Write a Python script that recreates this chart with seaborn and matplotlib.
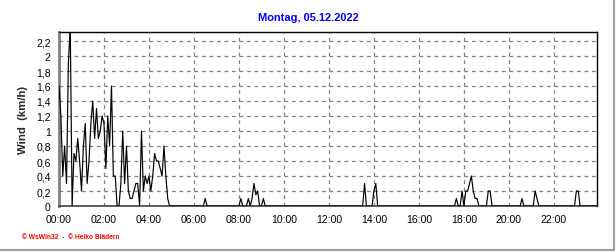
import matplotlib
matplotlib.use("Agg")
import matplotlib.pyplot as plt
from matplotlib.lines import Line2D
from matplotlib.ticker import MultipleLocator, FuncFormatter
import seaborn as sns
import pandas as pd

# ---- data (wind speed, km/h, 05.12.2022) ----
times = [
    "00:00","00:05","00:10","00:15","00:20","00:25","00:30","00:35","00:40","00:45",
    "00:50","00:55","01:00","01:05","01:10","01:15","01:20","01:25","01:30","01:35",
    "01:40","01:45","01:50","01:55","02:00","02:05","02:10","02:15","02:20","02:25",
    "02:30","02:35","02:40","02:45","02:50","02:55","03:00","03:05","03:10","03:15",
    "03:20","03:25","03:30","03:35","03:40","03:45","03:50","03:55","04:00","04:05",
    "04:10","04:15","04:20","04:25","04:30","04:35","04:40","04:45","04:50","04:55",
    "05:00",
    "06:25","06:30","06:35",
    "08:00","08:05","08:10",
    "08:20","08:25","08:30","08:35","08:40","08:45","08:50","08:55","09:00","09:05","09:10",
    "13:30","13:35","13:40",
    "13:55","14:00","14:05","14:10",
    "17:35","17:40","17:45","17:50","17:55","18:00","18:05","18:10","18:15","18:20",
    "18:25","18:30","18:35","18:40",
    "19:00","19:05","19:10","19:15",
    "20:30","20:35","20:40",
    "21:05","21:10","21:15","21:20",
    "22:55","23:00","23:05","23:10",
    "23:55",
]
wind = [
    1.6, 1.2, 0.4, 0.8, 0.3, 1.9, 2.4, 0.0, 0.7, 0.6,
    0.9, 0.6, 0.2, 0.8, 1.1, 0.3, 0.6, 1.1, 1.4, 0.9,
    1.3, 0.9, 1.0, 1.2, 1.1, 0.5, 1.2, 0.8, 1.6, 0.4,
    0.4, 0.0, 0.0, 0.3, 1.0, 0.3, 0.8, 0.2, 0.1, 0.1,
    0.2, 0.3, 0.3, 0.0, 1.0, 0.2, 0.4, 0.3, 0.4, 0.2,
    0.4, 0.7, 0.6, 0.6, 0.5, 0.4, 0.8, 0.4, 0.1, 0.0,
    0.0,
    0.0, 0.1, 0.0,
    0.0, 0.1, 0.0,
    0.0, 0.1, 0.0, 0.1, 0.3, 0.15, 0.2, 0.0, 0.0, 0.1, 0.0,
    0.0, 0.3, 0.0,
    0.0, 0.2, 0.3, 0.0,
    0.0, 0.1, 0.0, 0.0, 0.2, 0.0, 0.2, 0.2, 0.3, 0.4,
    0.2, 0.1, 0.1, 0.0,
    0.0, 0.2, 0.2, 0.0,
    0.0, 0.1, 0.0,
    0.0, 0.2, 0.1, 0.0,
    0.0, 0.2, 0.2, 0.0,
    0.0,
]
x_tick_labels = ["00:00","02:00","04:00","06:00","08:00","10:00","12:00",
                 "14:00","16:00","18:00","20:00","22:00"]
title_text = "Montag, 05.12.2022"
y_label = "Wind  (km/h)"
footer_text = "\u00a9 WsWin32  -  \u00a9 Heiko Blädern"

def to_hours(s):
    h, m = s.split(":")
    return int(h) + int(m) / 60.0

df = pd.DataFrame({"hour": [to_hours(t) for t in times], "wind": wind})

sns.set_style("white")
plt.rcParams["font.family"] = ["Liberation Sans", "DejaVu Sans"]

fig = plt.figure(figsize=(6.16, 2.53), dpi=100)
fig.patch.set_facecolor("white")
ax = fig.add_axes([59/616, 1-207/253, (597-59)/616, (207-33)/253])

sns.lineplot(data=df, x="hour", y="wind", ax=ax, color="black", linewidth=0.85,
             estimator=None, sort=False, zorder=3)

ax.set_xlim(0, 23.917)
ax.set_ylim(0, 2.32)

ax.set_xticks([2*i for i in range(len(x_tick_labels))])
ax.set_xticklabels(x_tick_labels)
ax.xaxis.set_minor_locator(MultipleLocator(0.5))
ax.yaxis.set_major_locator(MultipleLocator(0.2))
ax.yaxis.set_minor_locator(MultipleLocator(0.1))
ax.yaxis.set_major_formatter(FuncFormatter(
    lambda v, p: ("%g" % round(v, 1)).replace(".", ",")))

ax.tick_params(axis="both", which="major", direction="out", length=4, width=1,
               color="#808080", labelsize=7.6, labelcolor="black", pad=2)
ax.tick_params(axis="both", which="minor", direction="out", length=3, width=1,
               color="#808080")

ax.grid(True, which="major", linestyle=(0, (3, 3)), color="#808080", linewidth=0.9)
ax.set_axisbelow(True)

for side in ["top", "right"]:
    ax.spines[side].set_color("black")
    ax.spines[side].set_linewidth(1.0)
ax.spines["left"].set_color("#808080")
ax.spines["left"].set_linewidth(2.0)
ax.spines["bottom"].set_color("#404040")
ax.spines["bottom"].set_linewidth(1.2)

ax.set_xlabel("")
ax.set_ylabel(y_label, fontsize=8.2, fontweight="bold", labelpad=4)
ax.yaxis.set_label_coords(-(59-28)/538, 0.5)

fig.text(308/616, 1-18/253, title_text, ha="center", va="center",
         color="#0000ff", fontsize=7.9, fontweight="bold")
fig.text(22/616, 1-238/253, footer_text, ha="left", va="center",
         color="#ff0000", fontsize=4.8, fontweight="bold")

# outer panel border (right and bottom)
fig.add_artist(Line2D([0, 613.5/616], [1-250.5/253, 1-250.5/253],
                      transform=fig.transFigure, color="#a0a0a0", linewidth=1.5))
fig.add_artist(Line2D([613.5/616, 613.5/616], [1, 1-250.5/253],
                      transform=fig.transFigure, color="#a0a0a0", linewidth=1.5))

fig.savefig("out.png", dpi=100, facecolor="white")
